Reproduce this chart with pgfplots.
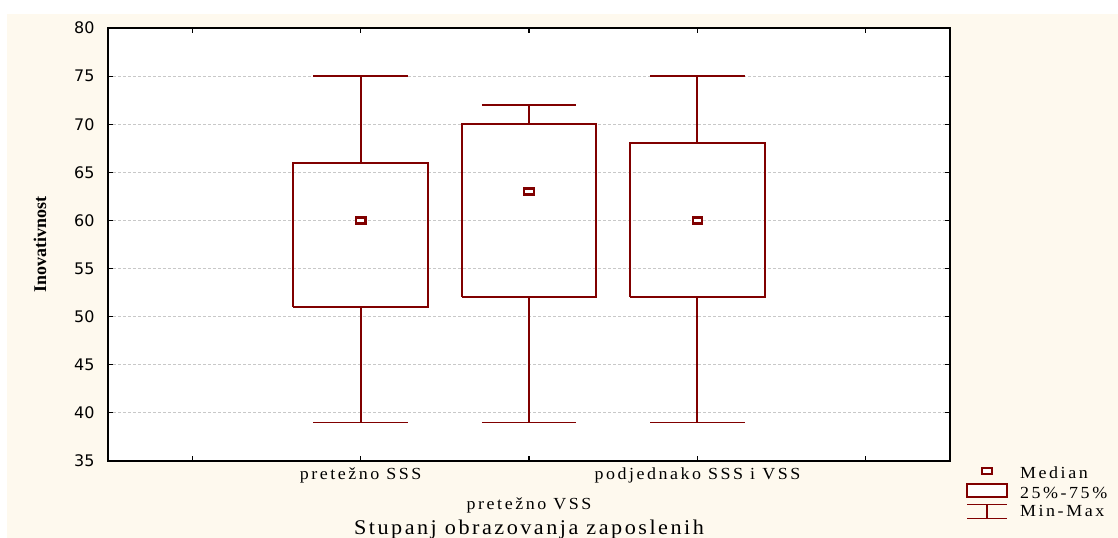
\documentclass[border=0pt]{standalone}
\usepackage{pgfplots}
\pgfplotsset{compat=1.18}
\usepackage{fontspec}
\setmainfont{Liberation Serif}
\newfontfamily\spaced[LetterSpace=15,FakeStretch=1.06]{Liberation Serif}
\newfontfamily\titlefont[LetterSpace=12,FakeStretch=1.06]{Liberation Serif}
\newfontfamily\tickfont{DejaVu Sans}
\definecolor{maroon}{HTML}{800000}
\definecolor{cream}{HTML}{FEF9EE}
\definecolor{gridgray}{HTML}{C8C8C8}
\begin{document}
\begin{tikzpicture}
\useasboundingbox (-108bp,-77bp) rectangle (1010bp,461bp);
\fill[white] (-108bp,-77bp) rectangle (1010bp,461bp);
\fill[cream] (-101bp,-77bp) rectangle (1010bp,447bp);
\begin{axis}[
  at={(0,0)}, anchor=south west,
  width=842bp, height=433bp, scale only axis,
  xmin=-0.5, xmax=4.5, ymin=35, ymax=80,
  axis background/.style={fill=white},
  axis line style={black, line width=1.5bp},
  major tick length=5bp,
  tick style={black, line width=1.2bp},
  xtick={0,1,3,4},
  xticklabels={{},pretežno SSS,podjednako SSS i VSS,{}},
  extra x ticks={2},
  extra x tick labels={pretežno VSS},
  extra x tick style={xticklabel style={yshift=-30bp}},
  xticklabel style={font=\fontsize{17}{18}\spaced, yshift=-3bp},
  ytick={35,40,...,80},
  /pgf/number format/assume math mode=true,
  yticklabel style={font=\fontsize{16}{18}\tickfont, xshift=-10bp},
  ymajorgrids,
  grid style={gridgray, line width=0.8bp, dash pattern=on 3bp off 2bp},
  xlabel={Stupanj obrazovanja zaposlenih},
  xlabel style={at={(axis description cs:0.5,-0.157)}, anchor=center, font=\fontsize{21}{21}\titlefont},
  ylabel={Inovativnost},
  ylabel style={at={(axis description cs:-0.0808,0.5)}, anchor=center, font=\fontsize{18}{18}\bfseries},
  legend style={at={(axis description cs:1.019,-0.008)}, anchor=north west, draw=none, fill=none,
    inner sep=0pt, row sep=1bp, font=\fontsize{17}{18}\spaced, text=black,
    /tikz/every odd column/.append style={column sep=10bp}},
  legend cell align=left,
  every axis plot/.append style={forget plot},
]
% boxes (25%-75%)
\addplot[maroon, line width=2bp, mark=none] coordinates {(0.6,51) (1.4,51) (1.4,66) (0.6,66) (0.6,51)};
\addplot[maroon, line width=2bp, mark=none] coordinates {(1.6,52) (2.4,52) (2.4,70) (1.6,70) (1.6,52)};
\addplot[maroon, line width=2bp, mark=none] coordinates {(2.6,52) (3.4,52) (3.4,68) (2.6,68) (2.6,52)};
% whiskers (min-max)
\addplot[maroon, line width=2bp, mark=none] coordinates {(1,66) (1,75)};
\addplot[maroon, line width=2bp, mark=none] coordinates {(1,51) (1,39)};
\addplot[maroon, line width=2bp, mark=none] coordinates {(2,70) (2,72)};
\addplot[maroon, line width=2bp, mark=none] coordinates {(2,52) (2,39)};
\addplot[maroon, line width=2bp, mark=none] coordinates {(3,68) (3,75)};
\addplot[maroon, line width=2bp, mark=none] coordinates {(3,52) (3,39)};
% caps
\addplot[maroon, line width=1.6bp, mark=none] coordinates {(0.72,75) (1.28,75)};
\addplot[maroon, line width=1.6bp, mark=none] coordinates {(0.72,39) (1.28,39)};
\addplot[maroon, line width=1.6bp, mark=none] coordinates {(1.72,72) (2.28,72)};
\addplot[maroon, line width=1.6bp, mark=none] coordinates {(1.72,39) (2.28,39)};
\addplot[maroon, line width=1.6bp, mark=none] coordinates {(2.72,75) (3.28,75)};
\addplot[maroon, line width=1.6bp, mark=none] coordinates {(2.72,39) (3.28,39)};
% medians
\addplot[only marks, mark=square*, mark size=3bp,
  mark options={fill=white, draw=maroon, line width=2.2bp, xscale=1.6}]
  coordinates {(1,60) (2,63) (3,60)};
\addlegendimage{legend image code/.code={\draw[maroon, line width=2bp, fill=white] (15bp,-1bp) rectangle (25bp,5bp);}}
\addlegendentry{Median}
\addlegendimage{legend image code/.code={\draw[maroon, line width=2bp, fill=white] (0bp,-3bp) rectangle (40bp,10bp);}}
\addlegendentry{25\%-75\%}
\addlegendimage{legend image code/.code={\draw[maroon, line width=1.6bp] (0bp,7bp)--(40bp,7bp) (20bp,7bp)--(20bp,-7bp) (0bp,-7bp)--(40bp,-7bp);}}
\addlegendentry{Min-Max}
\end{axis}
\end{tikzpicture}
\end{document}
